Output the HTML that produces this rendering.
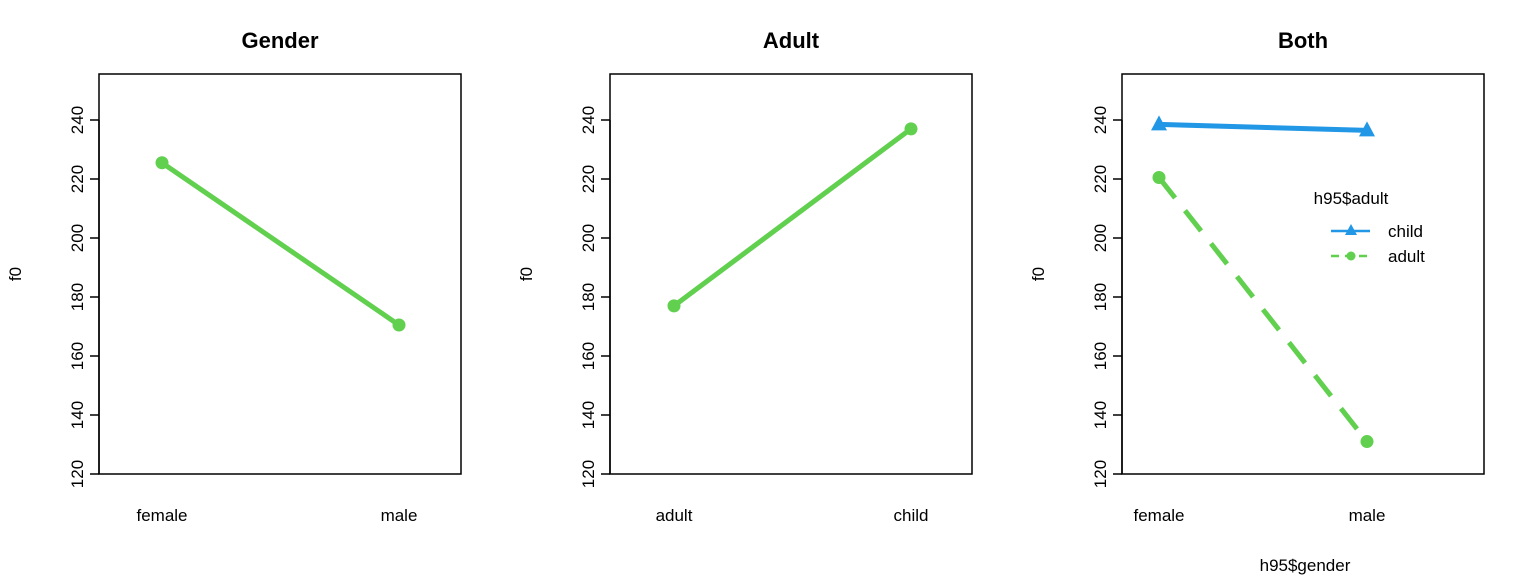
<!DOCTYPE html>
<html><head><meta charset="utf-8"><style>body{margin:0;background:#fff}svg{display:block;font-family:"Liberation Sans",Arial,sans-serif}</style></head>
<body>
<svg id="chart" width="1536" height="576"></svg>
<script>
const panelTitles = ["Gender", "Adult", "Both"];
const panelCats = [["female", "male"], ["adult", "child"], ["female", "male"]];
const genderMeans = [225.5, 170.5];
const adultMeans = [177, 237];
const bothChild = [238.5, 236.5];
const bothAdult = [220.5, 131];
const yTicks = [120, 140, 160, 180, 200, 220, 240];
const legendLabels = ["child", "adult"];

const NS = "http://www.w3.org/2000/svg";
const svg = document.getElementById("chart");
function mk(tag, attrs, parent, text) {
  const e = document.createElementNS(NS, tag);
  for (const k in attrs) e.setAttribute(k, attrs[k]);
  if (text !== undefined) e.textContent = text;
  (parent || svg).appendChild(e);
  return e;
}
const boxes = [[99, 461], [610, 972], [1122, 1484]];
const catX = [[162, 399], [674, 911], [1159, 1367]];
function yScale(v) { return 474 - (v - 120) * 2.95; }
const GREEN = "#61D04F", BLUE = "#2297E6";

boxes.forEach((b, i) => {
  const g = mk("g", {});
  
  
  const r = mk("rect", {x: b[0], y: 74, width: b[1] - b[0], height: 400, fill: "none", stroke: "#000", "stroke-width": 1.5}, g);
  
  
  const t = mk("text", {x: (b[0] + b[1]) / 2, y: 48, "text-anchor": "middle", "font-size": 22, "font-weight": "bold"}, g, panelTitles[i]);
  
  
  // y axis
  const ya = mk("line", {x1: b[0], x2: b[0], y1: yScale(yTicks[0]), y2: yScale(yTicks[yTicks.length - 1]), stroke: "#000", "stroke-width": 1.5}, g);
  
  
  yTicks.forEach(v => {
    const y = yScale(v);
    mk("line", {x1: b[0] - 9, x2: b[0], y1: y, y2: y, stroke: "#000", "stroke-width": 1.5}, g);
    const tl = mk("text", {x: b[0] - 16, y: y, transform: `rotate(-90 ${b[0] - 16} ${y})`, "text-anchor": "middle", "font-size": 17}, g, v);
    
    
  });
  const yt = mk("text", {x: b[0] - 78, y: 274, transform: `rotate(-90 ${b[0] - 78} 274)`, "text-anchor": "middle", "font-size": 17}, g, "f0");
  
  
  panelCats[i].forEach((c, j) => {
    const xl = mk("text", {x: catX[i][j], y: 521, "text-anchor": "middle", "font-size": 17}, g, c);
    
    
  });
});

function series(vals, pi, color, dash, marker, name) {
  const g = mk("g", {});
  
  
  const pts = vals.map((v, j) => [catX[pi][j], yScale(v)]);
  const ln = mk("line", {x1: pts[0][0], y1: pts[0][1], x2: pts[1][0], y2: pts[1][1], stroke: color, "stroke-width": 5, "stroke-dasharray": dash || "none"}, g);
  
  
  pts.forEach(p => {
    let m;
    if (marker === "tri") m = mk("polygon", {points: `${p[0]},${p[1] - 9} ${p[0] - 8},${p[1] + 6} ${p[0] + 8},${p[1] + 6}`, fill: color}, g);
    else m = mk("circle", {cx: p[0], cy: p[1], r: 6.5, fill: color}, g);
    
    
  });
}
series(genderMeans, 0, GREEN, null, "dot", "gender-series");
series(adultMeans, 1, GREEN, null, "dot", "adult-series");
series(bothChild, 2, BLUE, null, "tri", "both-child-series");
series(bothAdult, 2, GREEN, "26 16", "dot", "both-adult-series");

const xt = mk("text", {x: 1305, y: 571, "text-anchor": "middle", "font-size": 17}, svg, "h95$gender");



const lg = mk("g", {});


const lt = mk("text", {x: 1351, y: 204, "text-anchor": "middle", "font-size": 17}, lg, "h95$adult");


legendLabels.forEach((lab, k) => {
  const y = 231 + k * 25;
  const col = k === 0 ? BLUE : GREEN;
  const e = mk("g", {}, lg);
  
  
  mk("line", {x1: 1331, x2: 1370, y1: y, y2: y, stroke: col, "stroke-width": 2.5, "stroke-dasharray": k === 0 ? "none" : "8 6"}, e);
  if (k === 0) mk("polygon", {points: `1351,${y - 7} 1345,${y + 4} 1357,${y + 4}`, fill: col}, e);
  else mk("circle", {cx: 1351, cy: y, r: 4.5, fill: col}, e);
  mk("text", {x: 1388, y: y + 6, "font-size": 17}, e, lab);
});
</script>
</body></html>
